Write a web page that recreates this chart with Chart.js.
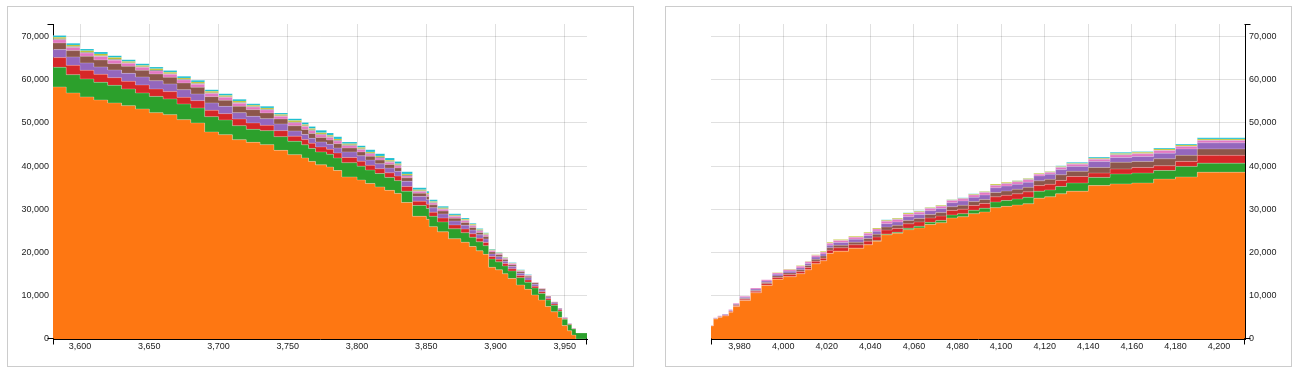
<!DOCTYPE html>
<html>
<head>
<meta charset="utf-8">
<script src="https://cdn.jsdelivr.net/npm/chart.js@4"></script>
<style>
  body { margin: 0; background: #fff; }
  .box { position: absolute; top: 6px; width: 627px; height: 361px; box-sizing: border-box; border: 1px solid #ccc; }
  .chart { position: absolute; top: 6px; width: 627px; height: 361px; }
</style>
</head>
<body>
<div class="box" style="left:7px"></div>
<div class="box" style="left:665px"></div>
<div class="chart" style="left:7px"><canvas id="bids"></canvas></div>
<div class="chart" style="left:665px"><canvas id="asks"></canvas></div>
<script>
// tick labels
const bidXTicks = [3600, 3650, 3700, 3750, 3800, 3850, 3900, 3950];
const askXTicks = [3980, 4000, 4020, 4040, 4060, 4080, 4100, 4120, 4140, 4160, 4180, 4200];
const yTicks = [0, 10000, 20000, 30000, 40000, 50000, 60000, 70000];

// bid side (left panel), cumulative depth per exchange
const bidPrices = [
  3580, 3590, 3600, 3610, 3620, 3630, 3640, 3650, 3660, 3670,
  3680, 3690, 3700, 3710, 3720, 3730, 3740, 3750, 3760, 3765,
  3770, 3778, 3783, 3789, 3800, 3806, 3813, 3820, 3827, 3832,
  3840, 3850, 3852, 3858, 3866, 3875, 3881, 3886, 3891, 3895,
  3900, 3905, 3909, 3915, 3921, 3926, 3931, 3936, 3940, 3945,
  3948, 3952, 3955, 3958, 3959, 3967];
const bidOrange = [
  59800, 58330, 56940, 56020, 55320, 54630, 54000, 53240, 52380, 51920,
  50760, 50000, 47920, 47290, 46130, 45510, 44980, 43660, 42660, 41900,
  41100, 40300, 39800, 39000, 37500, 36800, 36000, 35200, 34400, 33700,
  31600, 28400, 27700, 26000, 24800, 23200, 22400, 21400, 20400, 19600,
  16600, 16000, 15100, 14000, 12500, 11500, 10200, 9000, 7500, 6300,
  5000, 3100, 1900, 900, 0, 0];
const bidGreen = [
  4600, 4540, 4240, 4170, 4080, 4070, 3870, 3700, 3770, 3640,
  3630, 3470, 3540, 3400, 3240, 3010, 3240, 3170, 3080, 3050,
  3000, 3000, 2950, 2900, 3300, 3200, 3100, 3100, 3000, 2950,
  2600, 2500, 2500, 2400, 2300, 2300, 2200, 2150, 2100, 2000,
  1900, 1850, 1800, 1750, 1700, 1650, 1600, 1550, 1500, 1500,
  1450, 1450, 1400, 1400, 1400, 1400];
const bidRed = [
  2150, 2250, 2150, 1990, 1850, 1780, 1760, 1850, 1710, 1690,
  1530, 1690, 1460, 1460, 1550, 1480, 1230, 1390, 1200, 1200,
  1200, 1150, 1150, 1150, 1200, 1150, 1100, 1100, 1050, 1050,
  1100, 1000, 1000, 950, 900, 900, 850, 800, 800, 750,
  600, 600, 550, 500, 500, 500, 400, 400, 350, 300,
  300, 200, 150, 100, 0, 0];
const bidPurple = [
  1950, 1850, 1950, 1710, 1710, 1780, 1850, 1850, 1920, 1780,
  1780, 1550, 1710, 1690, 1460, 1530, 1550, 1550, 1200, 1200,
  1150, 1150, 1150, 1150, 1300, 1250, 1200, 1150, 1100, 1100,
  1200, 1100, 1050, 1000, 950, 900, 900, 850, 800, 800,
  600, 600, 550, 500, 500, 500, 450, 400, 350, 300,
  300, 200, 150, 100, 0, 0];
const bidBrown = [
  1400, 1550, 1460, 1530, 1620, 1460, 1620, 1530, 1550, 1530,
  1550, 1530, 1460, 1390, 1460, 1550, 1320, 1160, 1200, 1150,
  1100, 1050, 1000, 1000, 900, 900, 900, 850, 850, 800,
  800, 750, 750, 700, 650, 650, 600, 600, 550, 550,
  450, 450, 400, 400, 350, 350, 300, 250, 200, 150,
  100, 50, 0, 0, 0, 0];
const bidPink = [
  800, 750, 750, 750, 800, 800, 700, 700, 700, 700,
  700, 700, 700, 700, 700, 600, 700, 600, 700, 650,
  650, 600, 600, 600, 550, 550, 550, 500, 500, 500,
  450, 400, 400, 400, 400, 400, 400, 400, 350, 350,
  250, 250, 250, 250, 200, 200, 100, 100, 100, 50,
  50, 0, 0, 0, 0, 0];
const bidGray = [
  200, 200, 200, 200, 200, 200, 150, 150, 200, 150,
  150, 200, 200, 150, 200, 150, 150, 150, 200, 200,
  200, 200, 200, 200, 200, 200, 200, 200, 200, 200,
  200, 150, 150, 150, 150, 150, 150, 150, 150, 150,
  100, 100, 100, 100, 50, 50, 50, 50, 0, 0,
  0, 0, 0, 0, 0, 0];
const bidOlive = [
  400, 340, 340, 360, 400, 400, 300, 300, 320, 300,
  300, 320, 320, 300, 320, 290, 300, 290, 300, 300,
  300, 300, 300, 300, 250, 250, 250, 250, 250, 250,
  250, 250, 250, 250, 200, 200, 200, 200, 200, 200,
  150, 100, 100, 100, 100, 50, 50, 50, 0, 0,
  0, 0, 0, 0, 0, 0];
const bidCyan = [
  450, 400, 400, 400, 450, 450, 400, 400, 400, 400,
  380, 400, 400, 400, 400, 350, 380, 350, 460, 450,
  500, 550, 550, 500, 400, 450, 500, 550, 550, 550,
  500, 450, 400, 350, 350, 300, 300, 250, 250, 200,
  150, 150, 150, 100, 100, 100, 50, 0, 0, 0,
  0, 0, 0, 0, 0, 0];

// ask side (right panel)
const askPrices = [
  3966, 3968, 3970, 3972, 3975, 3977, 3980, 3985, 3990, 3995,
  4000, 4006, 4010, 4013, 4017, 4020, 4023, 4030, 4037, 4041,
  4045, 4050, 4055, 4060, 4065, 4070, 4075, 4080, 4085, 4090,
  4095, 4100, 4105, 4110, 4115, 4120, 4125, 4130, 4140, 4150,
  4160, 4170, 4180, 4190, 4200, 4212];
const askOrange = [
  2500, 3000, 4600, 5000, 5350, 6200, 7500, 8900, 10700, 12400,
  13800, 14400, 15100, 16000, 17400, 18100, 19800, 20300, 21000, 21800,
  22600, 24100, 24500, 25300, 25700, 26500, 26900, 28000, 28300, 29000,
  29400, 30400, 30700, 31000, 31300, 32600, 32900, 33600, 34200, 35500,
  35900, 36100, 37000, 37500, 38600, 38600];
const askGreen = [
  0, 0, 0, 0, 0, 0, 0, 0, 0, 0,
  0, 0, 0, 0, 0, 0, 0, 0, 0, 0,
  150, 200, 200, 350, 400, 500, 550, 700, 700, 800,
  850, 1300, 1350, 1400, 1500, 1600, 1600, 1700, 1900, 1900,
  2300, 2300, 2000, 2450, 2100, 2100];
const askRed = [
  0, 50, 100, 150, 150, 200, 250, 300, 350, 400,
  450, 500, 500, 550, 600, 600, 750, 800, 800, 850,
  850, 900, 900, 1000, 1000, 1000, 1000, 1050, 1050, 1100,
  1100, 1200, 1200, 1200, 1250, 1300, 1300, 1400, 1500, 1000,
  1150, 1300, 1100, 1150, 1800, 1800];
const askBrown = [
  0, 0, 50, 50, 50, 100, 150, 200, 200, 250,
  350, 400, 400, 450, 450, 500, 550, 600, 600, 600,
  650, 700, 700, 800, 800, 800, 800, 850, 900, 900,
  950, 1000, 1000, 1050, 1050, 1100, 1150, 1300, 1200, 1300,
  1550, 1400, 1600, 1400, 1500, 1500];
const askPurple = [
  0, 50, 100, 100, 150, 150, 200, 250, 300, 350,
  400, 400, 450, 450, 500, 500, 600, 650, 700, 700,
  700, 800, 800, 850, 900, 900, 950, 950, 1000, 1000,
  1050, 1100, 1150, 1150, 1200, 1150, 1200, 1200, 1150, 1400,
  1100, 1150, 1300, 1500, 1400, 1400];
const askPink = [
  0, 0, 50, 100, 100, 150, 200, 250, 250, 300,
  300, 350, 400, 400, 400, 400, 450, 450, 450, 500,
  500, 550, 550, 550, 550, 500, 500, 500, 500, 500,
  550, 550, 550, 550, 550, 350, 400, 500, 500, 500,
  600, 600, 600, 550, 550, 550];
const askGray = [
  0, 0, 0, 0, 0, 0, 0, 0, 0, 0,
  0, 0, 0, 0, 0, 0, 0, 0, 0, 0,
  0, 100, 100, 100, 100, 100, 100, 100, 100, 100,
  100, 100, 100, 100, 100, 100, 100, 100, 100, 100,
  100, 100, 100, 100, 100, 100];
const askOlive = [
  0, 0, 0, 0, 0, 0, 0, 0, 0, 0,
  100, 150, 150, 150, 150, 200, 250, 200, 250, 250,
  250, 200, 200, 200, 200, 150, 150, 100, 100, 150,
  150, 200, 200, 200, 200, 150, 100, 150, 150, 200,
  250, 250, 300, 250, 250, 250];
const askCyan = [
  0, 0, 0, 0, 0, 0, 0, 0, 0, 0,
  0, 0, 0, 0, 0, 0, 0, 0, 0, 0,
  0, 50, 50, 50, 50, 50, 50, 50, 50, 50,
  50, 50, 50, 50, 50, 50, 50, 150, 200, 200,
  250, 200, 200, 200, 300, 300];

const yMax = 72900;
const FONT = { family: '"Liberation Sans", Arial, Helvetica, sans-serif', size: 9 };

// little end ticks on the axis lines, like d3's outer ticks
const outerTicks = {
  id: 'outerTicks',
  afterDraw(chart) {
    const { ctx, chartArea: a } = chart;
    const side = chart.options.scales.y.position;
    const l = Math.round(a.left) + 0.5, r = Math.round(a.right) - 0.5;
    const t = Math.round(a.top) + 0.5, b = Math.round(a.bottom) - 0.5;
    const yx = side === 'left' ? l : r;
    const d = side === 'left' ? -6 : 6;
    ctx.save();
    ctx.strokeStyle = '#000';
    ctx.lineWidth = 1;
    ctx.beginPath();
    ctx.moveTo(yx + d, t); ctx.lineTo(yx, t);
    ctx.moveTo(yx + d, b); ctx.lineTo(yx, b);
    ctx.moveTo(l, b); ctx.lineTo(l, b + 6);
    ctx.moveTo(r, b); ctx.lineTo(r, b + 6);
    ctx.stroke();
    ctx.restore();
  }
};

function makeChart(id, prices, series, xMin, xMax, xTicks, side) {
  return new Chart(document.getElementById(id), {
    type: 'line',
    data: {
      datasets: series.map((s, i) => ({
        label: s.name,
        data: prices.map((p, j) => ({ x: p, y: s.values[j] })),
        backgroundColor: s.color,
        borderColor: 'rgba(255,255,255,0.3)',
        borderWidth: 0.8,
        fill: i === 0 ? 'origin' : '-1',
        stepped: 'after',
        pointRadius: 0,
        pointHoverRadius: 0
      }))
    },
    options: {
      responsive: true,
      maintainAspectRatio: false,
      animation: false,
      events: [],
      layout: {
        padding: side === 'left'
          ? { top: 18, right: 47, left: 0, bottom: 0 }
          : { top: 18, right: 0, left: 46, bottom: 0 }
      },
      plugins: { legend: { display: false }, tooltip: { enabled: false } },
      scales: {
        x: {
          type: 'linear', min: xMin, max: xMax, bounds: 'data', z: 1,
          grid: { color: 'rgba(0,0,0,0.12)', drawTicks: false },
          border: { color: '#000', width: 1 },
          ticks: { autoSkip: false, maxRotation: 0, padding: 2, color: '#222', font: FONT },
          afterBuildTicks: s => { s.ticks = xTicks.map(v => ({ value: v })); },
          afterFit: s => { s.height = 28; }
        },
        y: {
          type: 'linear', stacked: true, min: 0, max: yMax, bounds: 'data', position: side, z: 1,
          grid: { color: 'rgba(0,0,0,0.12)', drawTicks: false },
          border: { color: '#000', width: 1 },
          ticks: { autoSkip: false, padding: 4, color: '#222', font: FONT },
          afterBuildTicks: s => { s.ticks = yTicks.map(v => ({ value: v })); },
          afterFit: s => { s.width = side === 'left' ? 46 : 47; }
        }
      }
    },
    plugins: [outerTicks]
  });
}

makeChart('bids', bidPrices, [
  { name: 'orange', color: '#fe7712', values: bidOrange },
  { name: 'green', color: '#2ca02c', values: bidGreen },
  { name: 'red', color: '#d62728', values: bidRed },
  { name: 'purple', color: '#9467bd', values: bidPurple },
  { name: 'brown', color: '#8c564b', values: bidBrown },
  { name: 'pink', color: '#e377c2', values: bidPink },
  { name: 'gray', color: '#7f7f7f', values: bidGray },
  { name: 'olive', color: '#bcbd22', values: bidOlive },
  { name: 'cyan', color: '#17becf', values: bidCyan }
], 3580.5, 3966, bidXTicks, 'left');

makeChart('asks', askPrices, [
  { name: 'orange', color: '#fe7712', values: askOrange },
  { name: 'green', color: '#2ca02c', values: askGreen },
  { name: 'red', color: '#d62728', values: askRed },
  { name: 'brown', color: '#8c564b', values: askBrown },
  { name: 'purple', color: '#9467bd', values: askPurple },
  { name: 'pink', color: '#e377c2', values: askPink },
  { name: 'gray', color: '#7f7f7f', values: askGray },
  { name: 'olive', color: '#bcbd22', values: askOlive },
  { name: 'cyan', color: '#17becf', values: askCyan }
], 3966.9, 4211.9, askXTicks, 'right');
</script>
</body>
</html>
